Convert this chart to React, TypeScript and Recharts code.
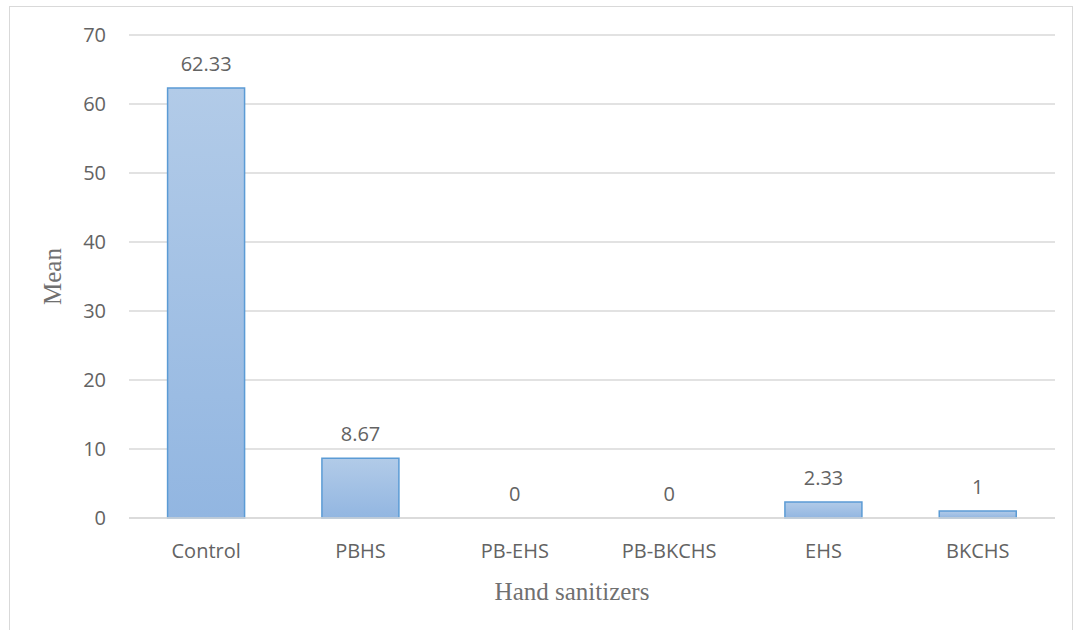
import { ComposedChart, Bar, Line, XAxis, YAxis, CartesianGrid, LabelList } from "recharts";

const categories = ["Control", "PBHS", "PB-EHS", "PB-BKCHS", "EHS", "BKCHS"];
const means = [62.33, 8.67, 0, 0, 2.33, 1];
const yTicks = [0, 10, 20, 30, 40, 50, 60, 70];

const data = categories.map((name, i) => ({ name, mean: means[i] }));

const sans = "'Open Sans', 'Noto Sans', sans-serif";
const serif = "'Liberation Serif', 'DejaVu Serif', serif";
const textColor = "#636363";

export default function App() {
  return (
    <div style={{ position: "absolute", left: 0, top: 0, width: 1074, height: 630, background: "#fff" }}>
      {/* chart frame */}
      <div
        style={{
          position: "absolute",
          left: 9,
          top: 6,
          width: 1064,
          height: 640,
          border: "1px solid #d9d9d9",
          boxSizing: "border-box",
        }}
      />
      <ComposedChart
        width={1074}
        height={630}
        data={data}
        margin={{ top: 35, right: 19, bottom: 12, left: 0 }}
        barCategoryGap="25%"
        style={{ position: "absolute", left: 0, top: 0 }}
      >
        <defs>
          <linearGradient id="barFill" x1="0" y1="0" x2="0" y2="1">
            <stop offset="0%" stopColor="#b2cbe8" />
            <stop offset="100%" stopColor="#92b6e1" />
          </linearGradient>
        </defs>
        <CartesianGrid vertical={false} stroke="#d9d9d9" strokeWidth={1.3} />
        <XAxis
          dataKey="name"
          height={100}
          tickLine={false}
          tickSize={0}
          tickMargin={26}
          axisLine={{ stroke: "#d9d9d9", strokeWidth: 1.3 }}
          tick={{ fill: textColor, fontSize: 20, fontFamily: sans }}
          label={{
            value: "Hand sanitizers",
            position: "insideBottom",
            offset: 18,
            dx: -20,
            fill: "#707070",
            fontSize: 25,
            fontFamily: serif,
          }}
        />
        <YAxis
          width={129}
          domain={[0, 70]}
          ticks={yTicks}
          axisLine={false}
          tickLine={false}
          tickSize={0}
          tickMargin={23}
          tick={{ fill: textColor, fontSize: 20, fontFamily: sans }}
          label={{
            value: "Mean",
            angle: -90,
            position: "center",
            dx: -12,
            fill: "#707070",
            fontSize: 25,
            fontFamily: serif,
          }}
        />
        <Bar
          dataKey="mean"
          fill="url(#barFill)"
          stroke="#5b9bd5"
          strokeWidth={1.5}
          isAnimationActive={false}
        />
        {/* invisible series carrying the value labels, so zeros get a label too */}
        <Line
          dataKey="mean"
          stroke="none"
          dot={false}
          activeDot={false}
          isAnimationActive={false}
        >
          <LabelList
            dataKey="mean"
            position="top"
            offset={17}
            fill={textColor}
            fontSize={20}
            fontFamily={sans}
          />
        </Line>
      </ComposedChart>
    </div>
  );
}
